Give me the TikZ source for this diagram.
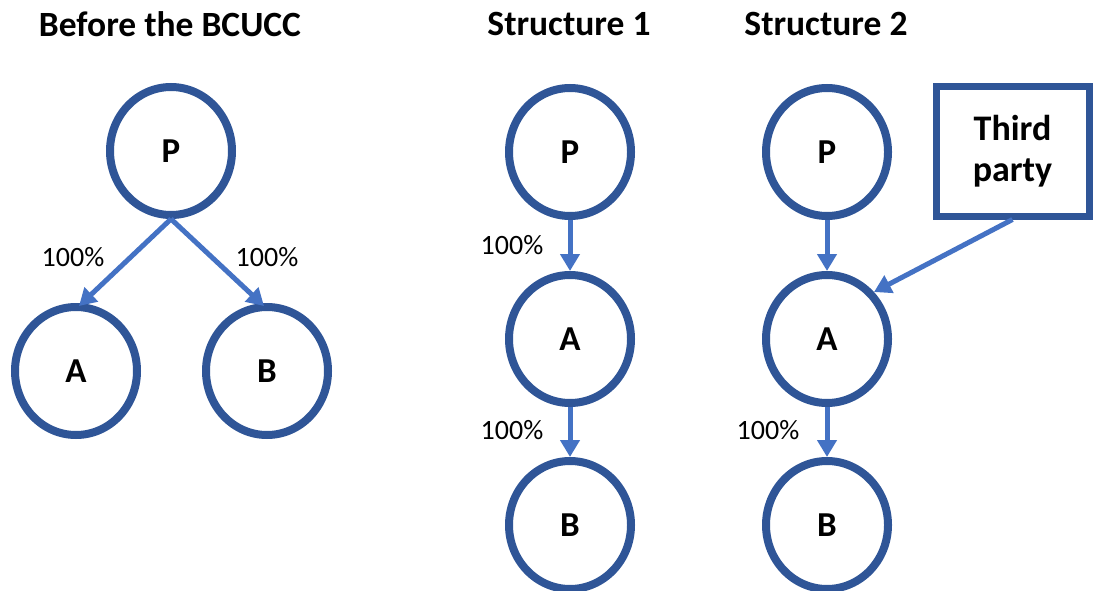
\documentclass[tikz,border=0pt]{standalone}
\usepackage{fontspec}
\setmainfont{Carlito}
\usetikzlibrary{arrows.meta,shapes.geometric}

\definecolor{ringblue}{HTML}{2F5597}
\definecolor{linkblue}{HTML}{4472C4}

\tikzset{
  entity/.style={ellipse, draw=ringblue, line width=8pt, fill=white,
    minimum width=122pt, minimum height=128pt, inner sep=0pt,
    font=\fontsize{35}{40}\selectfont\bfseries},
  partybox/.style={rectangle, draw=ringblue, line width=7pt, fill=white,
    minimum width=153pt, minimum height=129pt, align=center,
    font=\fontsize{36}{41}\selectfont\bfseries},
  heading/.style={font=\fontsize{35.5}{40}\selectfont\bfseries},
  share/.style={font=\fontsize{28}{32}\selectfont},
  owns/.style={draw=linkblue, line width=5pt,
    -{Triangle[width=19pt,length=17pt]}}
}

\begin{document}
\begin{tikzpicture}[x=1pt,y=-1pt]
\useasboundingbox (0,0) rectangle (1094,591);

% column headings
\node[heading] (h0) at (170,24) {Before the BCUCC};
\node[heading] (h1) at (569,24) {Structure 1};
\node[heading] (h2) at (826,24) {Structure 2};

% before the BCUCC: P holds A and B directly
\node[entity] (p0) at (171,151) {P};
\node[entity] (a0) at (76,371) {A};
\node[entity] (b0) at (267,371) {B};
\draw[owns] (p0.south) -- ([xshift=3pt,yshift=-3pt]a0.north);
\draw[owns] (p0.south) -- ([xshift=-3pt,yshift=-3pt]b0.north);
\node[share] (s0a) at (73,257) {100\%};
\node[share] (s0b) at (267,257) {100\%};

% structure 1: chain P -> A -> B
\node[entity] (p1) at (570,152) {P};
\node[entity] (a1) at (570,339) {A};
\node[entity] (b1) at (570,525) {B};
\draw[owns] (p1) -- (a1);
\draw[owns] (a1) -- (b1);
\node[share] (s1a) at (512,245) {100\%};
\node[share] (s1b) at (512,430) {100\%};

% structure 2: P and a third party both hold A, A holds B
\node[entity] (p2) at (827,152) {P};
\node[entity] (a2) at (827,339) {A};
\node[entity] (b2) at (827,525) {B};
\node[partybox] (tp) at (1012.5,151.5) {Third\\party};
\draw[owns] (p2) -- (a2);
\draw[owns] (a2) -- (b2);
\draw[owns] (tp.south) -- (a2.45);
\node[share] (s2b) at (768,430) {100\%};
\end{tikzpicture}
\end{document}
